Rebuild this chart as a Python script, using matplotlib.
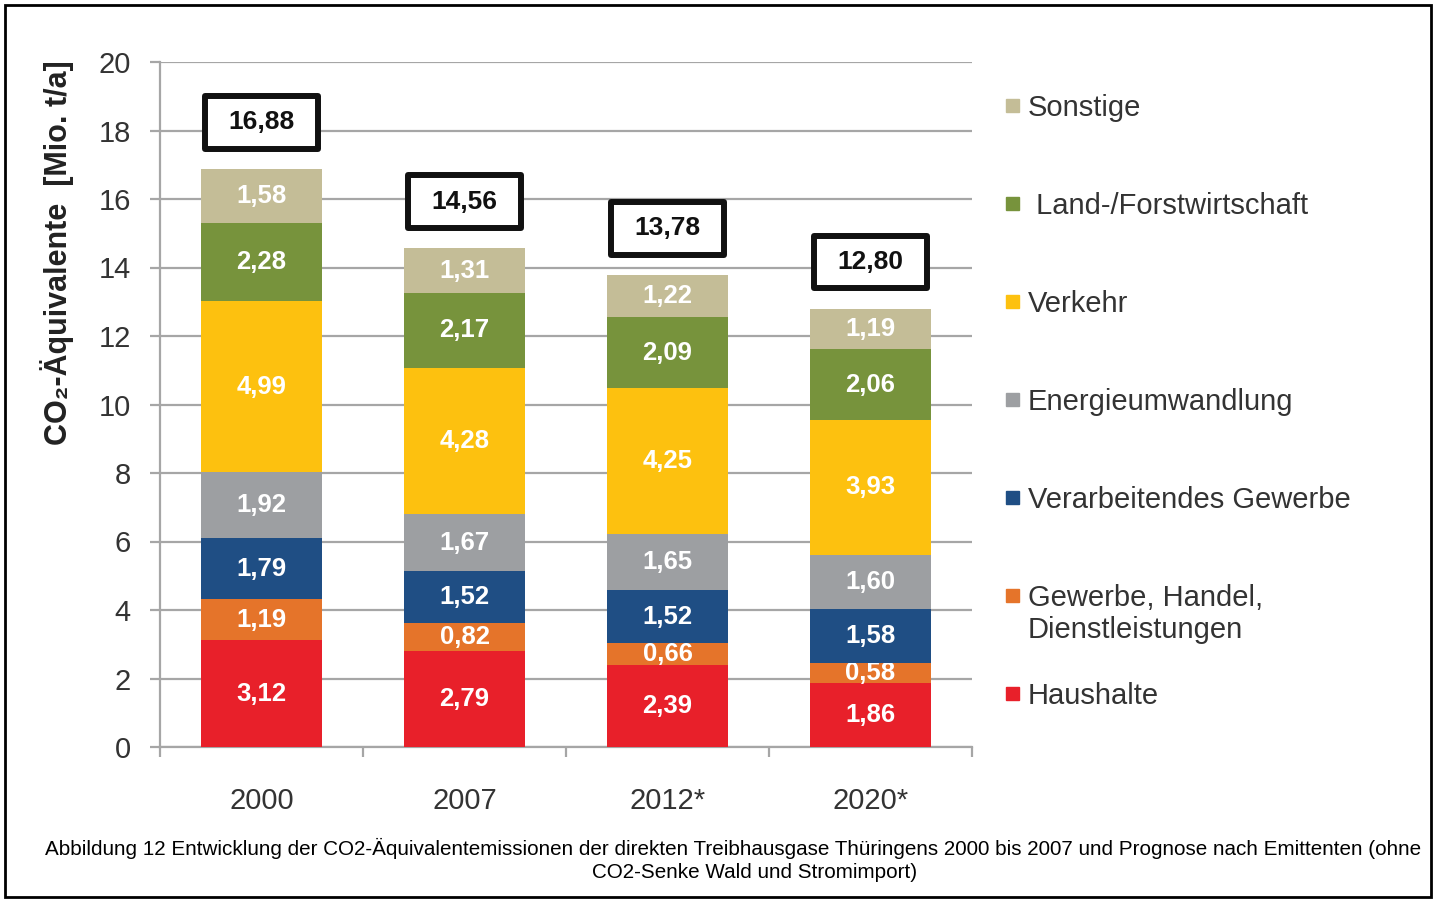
import numpy as np
import matplotlib.pyplot as plt
from matplotlib.patches import Rectangle

plt.rcParams['font.family'] = ['Liberation Sans', 'DejaVu Sans']

years = ['2000', '2007', '2012*', '2020*']
sectors = ['Haushalte', 'Gewerbe, Handel,\nDienstleistungen', 'Verarbeitendes Gewerbe',
           'Energieumwandlung', 'Verkehr', ' Land-/Forstwirtschaft', 'Sonstige']
haushalte = [3.12, 2.79, 2.39, 1.86]
ghd = [1.19, 0.82, 0.66, 0.58]
verarbeitend = [1.79, 1.52, 1.52, 1.58]
energie = [1.92, 1.67, 1.65, 1.60]
verkehr = [4.99, 4.28, 4.25, 3.93]
land_forst = [2.28, 2.17, 2.09, 2.06]
sonstige = [1.58, 1.31, 1.22, 1.19]
totals = [16.88, 14.56, 13.78, 12.80]
colors = ['#E8202A', '#E5742A', '#1F4E84', '#9D9FA2', '#FDC10F', '#77933C', '#C4BD97']

W, H = 1436, 899
fig = plt.figure(figsize=(W / 100, H / 100), dpi=100)
ax = fig.add_axes([160 / W, 1 - 747 / H, 812 / W, 685 / H])

x = np.arange(len(years)) + 0.5
series = [haushalte, ghd, verarbeitend, energie, verkehr, land_forst, sonstige]
bottom = np.zeros(len(years))
for vals, col in zip(series, colors):
    bars = ax.bar(x, vals, 0.6, bottom=bottom, color=col, zorder=3)
    labels = [f'{v:.2f}'.replace('.', ',') for v in vals]
    ax.bar_label(bars, labels=labels, label_type='center', color='white',
                 fontsize=18.5, fontweight='bold')
    bottom += vals

# Summenkaesten ueber den Balken
for xi, tot in zip(x, totals):
    yc = tot + 1.36
    ax.add_patch(Rectangle((xi - 0.277, yc - 0.77), 0.554, 1.54, facecolor='white',
                           edgecolor='#111111', lw=4.3, joinstyle='round',
                           zorder=4, clip_on=False))
    ax.text(xi, yc, f'{tot:.2f}'.replace('.', ','), ha='center', va='center',
            fontsize=19, fontweight='bold', color='#111111', zorder=5)

ax.set_xlim(0, 4)
ax.set_ylim(0, 20)
ax.set_yticks(range(0, 21, 2))
ax.yaxis.grid(True, color='#A6A6A6', lw=1.6)
ax.set_axisbelow(True)
for s in ['top', 'right']:
    ax.spines[s].set_visible(False)
for s in ['left', 'bottom']:
    ax.spines[s].set_color('#A6A6A6')
    ax.spines[s].set_linewidth(1.6)
ax.tick_params(axis='y', length=7, width=1.6, color='#A6A6A6', labelsize=21,
               labelcolor='#333333', pad=14)
ax.set_xticks([0, 1, 2, 3, 4])
ax.set_xticklabels([])
ax.set_xticks(x, minor=True)
ax.set_xticklabels(years, minor=True)
ax.tick_params(axis='x', which='major', length=7, width=1.6, color='#A6A6A6')
ax.tick_params(axis='x', which='minor', length=0, labelsize=21,
               labelcolor='#333333', pad=29)

fig.text(57 / W, 1 - 253 / H, 'CO₂-Äquivalente  [Mio. t/a]', rotation=90,
         fontsize=22, fontweight='bold', color='#222222', ha='center', va='center')

# Legende von oben nach unten
for i, (name, col) in enumerate(zip(sectors[::-1], colors[::-1])):
    yc = 107 + 98 * i
    fig.add_artist(Rectangle((1006 / W, 1 - (yc + 5) / H), 13 / W, 13 / H,
                             transform=fig.transFigure, color=col))
    fig.text(1028 / W, 1 - (yc - 13) / H, name, fontsize=21, color='#333333',
             va='top', ha='left', linespacing=1.2)

# Bildunterschrift
fig.text(45 / W, 1 - 848 / H,
         'Abbildung 12 Entwicklung der CO2-Äquivalentemissionen der direkten Treibhausgase '
         'Thüringens 2000 bis 2007 und Prognose nach Emittenten (ohne',
         ha='left', va='center', fontsize=14.9, color='black')
fig.text(755 / W, 1 - 872 / H, 'CO2-Senke Wald und Stromimport)',
         ha='center', va='center', fontsize=14.9, color='black')

fig.add_artist(Rectangle((5 / W, 2 / H), 1426 / W, 892 / H, transform=fig.transFigure,
                         fill=False, edgecolor='black', lw=2))

fig.savefig('out.png', dpi=100)
